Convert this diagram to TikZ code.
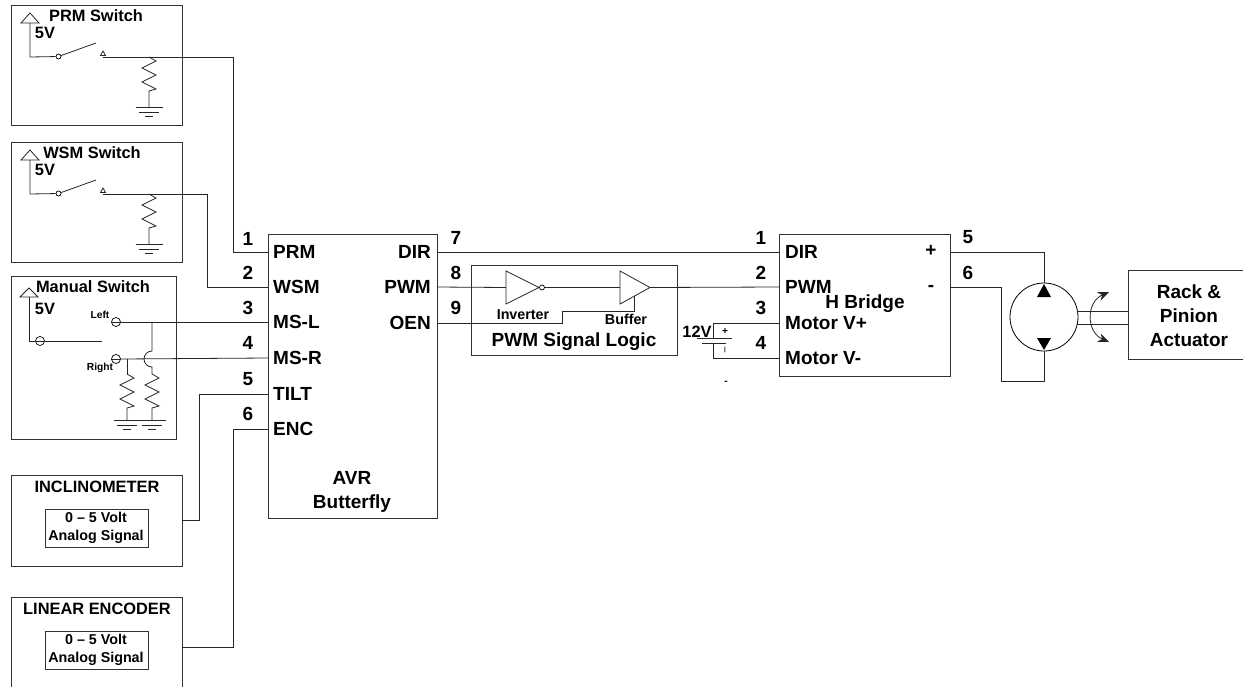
\documentclass[tikz,border=0pt]{standalone}
\usepackage{fontspec}
\setmainfont{Liberation Sans}
\usetikzlibrary{arrows.meta}

\tikzset{
    wire/.style={line width=0.8pt, black!85},
    blockbox/.style={draw=black!80, line width=1pt, fill=none, inner sep=0pt, anchor=north west},
    bigtxt/.style={inner sep=0pt, align=center, font=\bfseries\fontsize{19}{24}\selectfont},
    midtxt/.style={inner sep=0pt, align=center, font=\bfseries\fontsize{16.4}{20}\selectfont},
    smalltxt/.style={inner sep=0pt, align=center, font=\bfseries\fontsize{14.3}{17.5}\selectfont},
    tinytxt/.style={inner sep=0pt, font=\bfseries\fontsize{10.2}{12}\selectfont},
    pinpad/.style={circle, draw=black, line width=0.7pt, fill=white, inner sep=0pt, minimum size=#1},
    pics/pulldown/.style={code={
        % resistor zigzag, drawn downwards, then the ground bars
        \draw[wire] (0,0) -- (7,4) -- (-7,11) -- (7,18) -- (-7,25) -- (7,32) -- (0,34) -- (0,#1);
        \draw[wire] (-13.5,#1) -- (13.5,#1);
        \draw[wire] (-10,#1+5) -- (10,#1+5);
        \draw[wire] (-4,#1+9) -- (4,#1+9);
    }},
}

\begin{document}
\begin{tikzpicture}[x=1pt, y=-1pt, >={Stealth[length=11pt, width=9pt]}]
    \clip (0,0) rectangle (1243,686);
    \fill[white] (0,0) rectangle (1243,686);

    % Main blocks
    \node[blockbox, minimum width=169pt, minimum height=284pt] (avr) at (268,234) {};
    \node[blockbox, minimum width=206pt, minimum height=90pt] (logic) at (471,265) {};
    \node[blockbox, minimum width=171pt, minimum height=142pt] (hbridge) at (779,234) {};
    \node[blockbox, minimum width=130pt, minimum height=89pt] (rack) at (1128,270) {};
    \node[bigtxt] (avrname) at (352,492) {AVR\\Butterfly};
    \node[bigtxt] (hname) at (865,304) {H Bridge};
    \node[bigtxt] (rackname) at (1189,316) {Rack \&\\Pinion\\Actuator};
    \node[bigtxt] (logicname) at (574,342) {PWM Signal Logic};

    % Two switches with pull-down
    \foreach \nm/\yy/\ttl/\tx in {prm/0/PRM Switch/96, wsm/137/WSM Switch/92} {
        \node[blockbox, minimum width=171pt, minimum height=120pt] (\nm box) at (11,5+\yy) {};
        \node[midtxt] (\nm name) at (\tx,16+\yy) {\ttl};
        \node[midtxt] (\nm volt) at (45,33+\yy) {5V};
        \coordinate (\nm sup) at (30,23+\yy);
        \coordinate (\nm bend) at (30,57+\yy);
        \node[pinpad=5pt] (\nm pad) at (58.5,56.5+\yy) {};
        \coordinate (\nm arm) at (96,43+\yy);
        \coordinate (\nm tip) at (103,57+\yy);
        \coordinate (\nm tap) at (149,57+\yy);
        \draw[wire, fill=white] (\nm sup) ++(0,-10) -- ++(9,10) -- ++(-18,0) -- cycle;
        \draw[wire] (\nm sup) -- (\nm bend) -- (\nm pad);
        \draw[wire] (\nm pad) -- (\nm arm);
        \draw[wire, fill=white] (\nm tip) ++(-2.5,-1.5) -- ++(2.5,-4.5) -- ++(2.5,4.5) -- cycle;
        \draw[wire] (\nm tip) -- (\nm tap);
        \pic at (\nm tap) {pulldown=50};
    }

    % Manual switch
    \node[blockbox, minimum width=165pt, minimum height=163pt] (manbox) at (11,276) {};
    \node[midtxt] (manname) at (93,287) {Manual Switch};
    \node[midtxt] (manvolt) at (45,309) {5V};
    \coordinate (mansup) at (29,297);
    \coordinate (manbend) at (29,341);
    \node[pinpad=9pt] (manpad) at (40,341) {};
    \coordinate (manarm) at (102,341);
    \node[pinpad=9pt] (leftpad) at (116,322) {};
    \node[pinpad=9pt] (rightpad) at (116,359) {};
    \node[tinytxt] (leftname) at (100,315) {Left};
    \node[tinytxt] (rightname) at (100,368) {Right};
    \draw[wire, fill=white] (mansup) ++(0,-9) -- ++(9,9) -- ++(-18,0) -- cycle;
    \draw[wire] (mansup) -- (manbend) -- (manpad);
    \draw[wire] (manpad) -- (manarm);
    \draw[wire] (manpad.west) -- (manpad.east);
    \draw[wire] (leftpad.west) -- (leftpad.east);
    \draw[wire] (rightpad.west) -- (rightpad.east);
    \coordinate (leftjoin) at (152,322);
    \coordinate (hoptop) at (152,351);
    \coordinate (lefttap) at (152,374);
    \coordinate (righttap) at (127,359);
    \coordinate (rightres) at (127,374);
    \draw[wire] (leftjoin) -- (hoptop) arc[start angle=-90, delta angle=-180, radius=8] -- (lefttap);
    \draw[wire] (righttap) -- (rightres);
    \pic at (rightres) {pulldown=46};
    \pic at (lefttap) {pulldown=46};

    % Analog sensors
    \foreach \nm/\yy/\ttl/\hh in {inc/475/INCLINOMETER/91, enc/597/LINEAR ENCODER/120} {
        \node[blockbox, minimum width=171pt, minimum height=\hh pt] (\nm box) at (11,\yy) {};
        \node[midtxt] (\nm name) at (97,\yy+11.5) {\ttl};
        \node[blockbox, minimum width=103pt, minimum height=38pt, line width=0.8pt] (\nm sig) at (45,\yy+34) {};
        \node[smalltxt] (\nm txt) at (96,\yy+53) {0 -- 5 Volt\\Analog Signal};
    }

    % AVR pins, left side
    \foreach \n/\lab/\yy/\ny in {1/PRM/252/239, 2/WSM/287/273, 3/MS-L/322/308, 4/MS-R/358/343, 5/TILT/394/379, 6/ENC/429/414} {
        \coordinate (avrin\n) at (268,\yy);
        \node[bigtxt, anchor=west] (avrlab\n) at (273,\yy) {\lab};
        \node[bigtxt] (avrnum\n) at (248,\ny) {\n};
    }
    % AVR pins, right side
    \foreach \n/\lab/\yy/\ny in {7/DIR/252/238, 8/PWM/287/273, 9/OEN/323/308} {
        \coordinate (avrout\n) at (437,\yy);
        \node[bigtxt, anchor=east] (avrlab\n) at (431,\yy) {\lab};
        \node[bigtxt] (avrnum\n) at (456,\ny) {\n};
    }
    % H bridge pins
    \foreach \n/\lab/\yy/\ny in {1/DIR/252/238, 2/PWM/287/273, 3/Motor V+/323/308, 4/Motor V-/358/343} {
        \coordinate (hin\n) at (779,\yy);
        \node[bigtxt, anchor=west] (hlab\n) at (785,\yy) {\lab};
        \node[bigtxt] (hnum\n) at (761,\ny) {\n};
    }
    \node[bigtxt] (hplus) at (931,251) {+};
    \node[bigtxt] (hminus) at (931,288) {-};
    \node[bigtxt] (mnum5) at (968,237) {5};
    \node[bigtxt] (mnum6) at (968,273) {6};
    \coordinate (hout5) at (950,252);
    \coordinate (hout6) at (950,287);

    % Wires into the AVR
    \draw[wire] (prmtap) -| (233,252) -- (avrin1);
    \draw[wire] (wsmtap) -| (207,287) -- (avrin2);
    \draw[wire] (leftpad.east) -- (avrin3);
    \draw[wire] (rightpad.east) -- (avrin4);
    \coordinate (incout) at (182,520);
    \coordinate (encout) at (182,647);
    \draw[wire] (incout) -| (199,394) -- (avrin5);
    \draw[wire] (encout) -| (233,429) -- (avrin6);

    % Signal logic
    \draw[wire] (avrout7) -- (hin1);
    \coordinate (invbase) at (506,287.5);
    \coordinate (invtip) at (539,287.5);
    \coordinate (bufbase) at (620,287.5);
    \coordinate (buftip) at (650,287.5);
    \coordinate (enstep) at (562,323);
    \coordinate (enrun) at (562,311);
    \coordinate (enup) at (634,311);
    \coordinate (enend) at (634,296);
    \node[pinpad=5pt] (invbubble) at (542,287.5) {};
    \draw[wire] (avrout8) -- (invbase);
    \draw[wire] (invbubble) -- (bufbase);
    \draw[wire] (buftip) -- (hin2);
    \draw[wire, fill=white] (invbase) ++(0,-16.5) -- (invtip) -- (506,304) -- cycle;
    \draw[wire, fill=white] (bufbase) ++(0,-16.5) -- (buftip) -- (620,304) -- cycle;
    \draw[wire] (avrout9) -- (enstep) -- (enrun) -- (enup) -- (enend);
    \node[smalltxt] (invname) at (523,315) {Inverter};
    \node[smalltxt] (bufname) at (626,319) {Buffer};

    % Battery
    \coordinate (batplus) at (713,338);
    \coordinate (batminus) at (713,343);
    \draw[wire] (hin3) -| (batplus);
    \draw[wire] (hin4) -| (batminus);
    \draw[wire] (697,338) -- (732,338);
    \draw[wire] (702,343) -- (726,343);
    \node[midtxt] (batvolt) at (697,332) {12V};
    \node[tinytxt] (batp) at (725,332) {+};
    \node[tinytxt, font=\bfseries\fontsize{6}{7}\selectfont] (batm) at (725,350) {|};
    \node[tinytxt] (batdash) at (726,383) {-};

    % Motor
    \node[circle, draw=black, line width=0.8pt, minimum size=68pt, inner sep=0pt] (motor) at (1044,317) {};
    \draw[wire] (hout5) -| (motor.north);
    \draw[wire] (hout6) -| (1001,381) -| (motor.south);
    \fill[black] (1044,284) -- (1051,297) -- (1037,297) -- cycle;
    \fill[black] (1044,350) -- (1051,338) -- (1037,338) -- cycle;

    % Shaft to actuator
    \coordinate (shafttop) at (1128,311);
    \coordinate (shaftlow) at (1128,324);
    \draw[wire] (shafttop) -- (1077,311);
    \draw[wire] (shaftlow) -- (1077,324);
    \coordinate (swingtop) at (1109,292);
    \coordinate (swinglow) at (1109,342);
    \draw[<->, wire] (swingtop) .. controls (1086,302) and (1086,332) .. (swinglow);
\end{tikzpicture}
\end{document}
